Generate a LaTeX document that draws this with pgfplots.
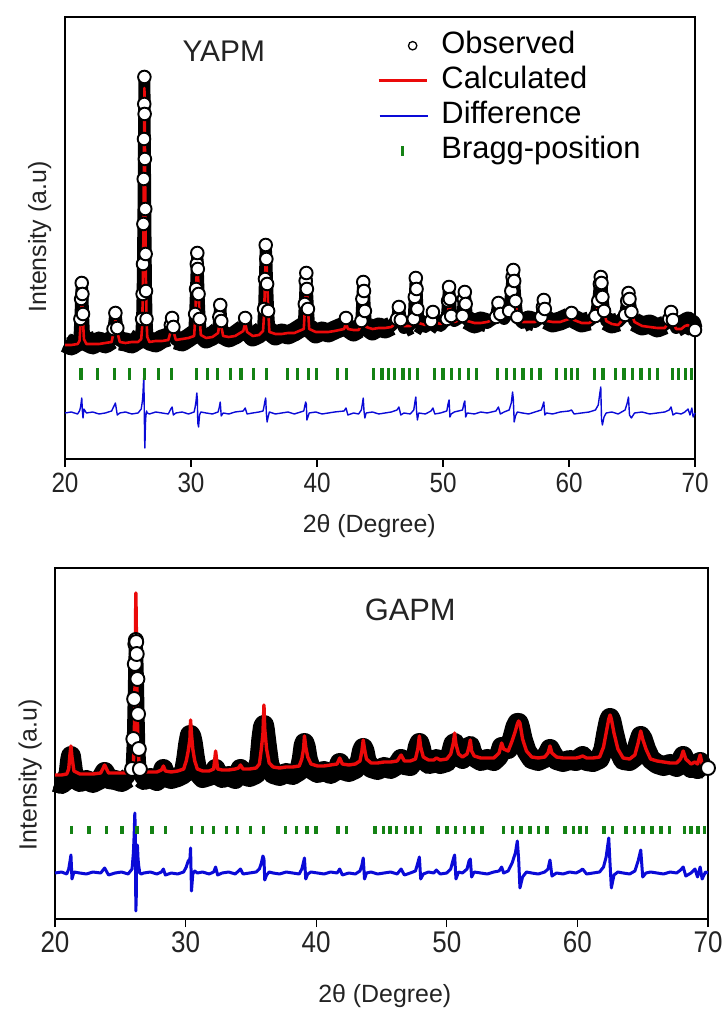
\documentclass[border=0pt]{standalone}
\usepackage{fontspec}
\setmainfont{Liberation Sans}
\newfontfamily\tickfont[FakeStretch=0.87]{Liberation Sans}
\usepackage{pgfplots}
\usepackage{pgfplotstable}
\pgfplotsset{compat=1.18}
\definecolor{calcred}{RGB}{235,10,10}
\definecolor{diffblue}{RGB}{10,10,215}
\definecolor{bragggreen}{RGB}{20,130,20}
\definecolor{txt}{RGB}{35,35,35}

% YAPM: x obs calc diff m (m=1: circle drawn)
\pgfplotstableread{
x obs calc diff m
20.0 116 114 46 0
20.5 113 114 47 0
21.0 117 115 45 0
21.15 122 118 48 0
21.22 140 132 51 1
21.28 160 148 56 1
21.33 176 157 61 1
21.38 165 154 48 1
21.43 145 138 41 1
21.50 125 120 50 0
21.7 117 115 46 0
22.2 114 115 47 0
22.7 118 115 45 0
23.2 115 116 46 0
23.7 119 117 48 0
23.85 130 126 52 1
24.0 146 139 56 1
24.15 131 127 44 1
24.35 118 117 46 0
24.8 117 116 47 0
25.3 115 117 45 0
25.8 119 117 46 0
26.05 124 120 50 0
26.12 140 132 56 1
26.16 165 155 60 1
26.19 195 185 66 1
26.22 235 222 74 1
26.25 280 265 82 1
26.27 320 310 70 1
26.29 355 350 50 1
26.30 382 371 40 1
26.32 345 360 20 1
26.34 300 320 11 1
26.37 250 262 28 1
26.40 205 212 40 1
26.43 168 170 44 1
26.47 140 140 48 1
26.53 124 122 46 0
26.7 118 117 45 0
27.2 116 118 47 0
27.7 120 118 46 0
28.2 122 119 45 0
28.4 134 128 50 1
28.5 141 135 52 1
28.6 132 128 44 1
28.8 119 119 46 0
29.3 117 120 47 0
29.8 121 121 45 0
30.25 125 123 47 0
30.33 145 140 52 1
30.40 170 165 58 1
30.46 195 190 66 1
30.50 206 199 60 1
30.54 190 192 36 1
30.60 165 168 32 1
30.68 140 142 44 1
30.78 126 124 47 0
31.2 120 121 46 0
31.7 123 122 45 0
32.15 128 126 47 0
32.25 142 135 52 1
32.32 154 141 57 1
32.40 138 133 43 1
32.55 124 123 46 0
33.0 121 122 45 0
33.5 124 123 47 0
34.15 130 128 48 0
34.30 141 136 51 1
34.45 129 127 45 0
34.9 122 123 46 0
35.4 125 124 47 0
35.72 130 128 48 0
35.80 150 145 53 1
35.87 180 175 58 1
35.93 214 206 61 1
35.98 200 200 46 1
36.04 175 182 37 1
36.12 148 152 42 1
36.22 128 127 47 0
36.7 123 125 45 0
37.2 126 125 46 0
37.7 124 126 47 0
38.2 127 126 45 0
38.95 133 130 48 0
39.03 155 148 53 1
39.10 178 165 57 1
39.15 186 172 55 1
39.20 170 168 39 1
39.28 150 151 42 1
39.38 131 130 46 0
39.9 125 127 47 0
40.4 128 127 45 0
40.9 126 127 46 0
41.4 129 128 47 0
42.15 133 130 48 0
42.30 141 136 51 1
42.45 131 130 44 0
42.9 127 129 46 0
43.3 130 129 45 0
43.52 138 134 49 1
43.60 160 150 55 1
43.67 177 159 61 1
43.73 168 157 48 1
43.80 148 145 41 1
43.90 133 132 46 0
44.4 128 130 47 0
44.9 132 131 45 0
45.4 130 131 46 0
45.9 133 132 47 0
46.35 140 137 49 1
46.50 152 145 52 1
46.65 139 137 44 1
46.9 131 133 46 0
47.4 134 133 45 0
47.68 140 137 49 1
47.76 162 152 56 1
47.84 181 162 62 1
47.90 170 160 48 1
47.97 150 150 39 1
48.07 136 136 46 0
48.6 132 134 45 0
49.05 138 136 48 1
49.20 147 142 51 1
49.35 137 137 45 0
49.8 133 135 46 0
50.3 140 138 48 1
50.40 158 148 55 1
50.48 172 154 59 1
50.55 160 152 42 1
50.65 143 142 45 1
50.9 138 137 47 0
51.55 143 140 49 1
51.65 160 148 55 1
51.73 167 149 58 1
51.80 155 146 42 1
51.92 139 138 46 0
52.5 135 136 45 0
53.0 138 136 47 0
53.5 136 137 46 0
54.2 142 140 48 1
54.40 156 150 52 1
54.55 145 144 45 1
54.85 140 141 47 0
55.25 148 146 49 1
55.42 168 165 56 1
55.52 182 180 67 1
55.58 189 184 60 1
55.65 178 182 37 1
55.75 158 160 43 1
55.90 142 141 47 1
56.3 136 137 46 0
56.8 139 137 45 0
57.3 137 137 47 0
57.8 142 140 49 1
57.93 152 144 54 1
58.00 159 146 57 1
58.08 150 143 44 1
58.22 139 138 46 0
58.7 136 137 45 0
59.3 138 137 47 0
60.0 142 140 48 0
60.2 146 142 49 1
60.4 140 139 45 0
61.0 136 136 46 0
61.6 138 136 47 0
62.1 143 140 49 1
62.32 158 156 54 1
62.45 175 172 66 1
62.52 182 177 72 1
62.58 176 178 40 1
62.65 162 168 34 1
62.78 148 150 42 1
62.95 138 138 46 0
63.4 135 135 47 0
63.9 137 134 45 0
64.45 144 142 49 1
64.62 158 152 56 1
64.72 166 156 62 1
64.80 160 155 44 1
64.95 147 146 41 1
65.2 137 137 46 0
65.8 133 133 47 0
66.4 135 132 45 0
67.0 131 131 46 0
67.6 134 131 47 0
67.95 140 138 49 1
68.10 147 142 52 1
68.25 139 137 44 1
68.5 131 130 46 0
68.9 134 130 45 0
69.2 136 133 47 0
69.45 138 134 50 0
69.6 133 131 44 0
69.75 135 132 51 0
69.85 130 129 42 0
70.0 129 128 46 1
}\topdata

% GAPM: x obs calc diff m
\pgfplotstableread{
x obs calc diff m
20.0 137 144 46 0
20.5 135 144 47 0
20.9 139 145 45 0
21.05 146 150 50 0
21.15 158 165 58 0
21.22 163 173 64 0
21.30 155 162 40 0
21.45 141 148 47 0
21.9 137 145 46 0
22.4 139 145 45 0
22.9 136 145 47 0
23.5 140 146 46 0
23.8 147 154 51 0
24.1 140 146 44 0
24.6 139 146 46 0
25.1 137 146 47 0
25.6 141 146 45 0
25.9 150 148 50 1
26.00 180 155 66 1
26.06 220 175 84 1
26.11 255 215 106 1
26.15 275 270 90 1
26.19 279 326 8 1
26.22 277 300 20 1
26.26 265 235 70 1
26.31 240 200 74 1
26.36 205 175 60 1
26.42 170 158 52 1
26.50 150 150 46 1
26.6 141 147 45 0
26.8 139 147 46 0
27.3 141 147 47 0
27.8 138 147 45 0
28.15 142 149 47 0
28.3 150 153 50 0
28.45 142 148 44 0
28.9 140 147 46 0
29.4 142 148 45 0
29.85 145 150 47 0
30.05 160 158 52 0
30.2 175 168 58 0
30.33 184 180 60 0
30.38 184 199 71 0
30.45 182 185 28 0
30.55 176 170 45 0
30.7 162 158 48 0
30.9 147 150 46 0
31.3 141 148 47 0
31.8 143 148 45 0
32.15 145 150 47 0
32.3 150 168 52 0
32.45 144 150 44 0
32.8 141 149 46 0
33.3 143 149 47 0
33.8 140 150 45 0
34.05 145 151 48 0
34.2 150 154 50 0
34.4 144 150 45 0
34.9 142 150 46 0
35.4 145 151 47 0
35.65 158 155 50 0
35.8 180 170 56 0
35.92 192 185 63 0
36.00 194 214 60 0
36.06 190 190 39 0
36.2 175 170 44 0
36.4 155 156 47 0
36.7 145 152 46 0
37.2 143 151 45 0
37.7 146 152 47 0
38.2 144 152 46 0
38.7 148 153 45 0
38.9 160 160 50 0
39.03 173 170 57 0
39.1 176 183 61 0
39.2 172 172 40 0
39.35 160 162 45 0
39.6 150 155 47 0
40.1 146 153 46 0
40.6 148 153 45 0
41.1 145 154 47 0
41.6 149 155 46 0
41.8 156 161 50 0
42.0 149 155 44 0
42.5 147 154 46 0
43.0 150 155 45 0
43.35 158 158 48 0
43.5 168 168 54 0
43.6 171 179 61 0
43.7 168 170 40 0
43.85 158 160 46 0
44.2 151 156 47 0
44.7 149 156 45 0
45.2 152 157 46 0
45.7 150 157 47 0
46.2 154 158 45 0
46.5 160 164 50 0
46.75 154 158 44 0
47.2 153 158 46 0
47.6 160 160 48 0
47.78 172 170 56 0
47.9 176 183 62 0
48.0 172 172 40 0
48.2 160 162 45 0
48.6 155 159 47 0
49.0 156 159 46 0
49.2 160 161 49 0
49.5 155 159 45 0
50.0 157 160 46 0
50.3 165 165 50 0
50.5 175 176 60 0
50.6 176 186 64 0
50.7 172 175 40 0
50.9 163 165 47 0
51.2 160 162 46 0
51.55 166 165 50 0
51.7 172 172 58 0
51.8 173 179 60 0
51.9 168 168 42 0
52.1 162 163 47 0
52.6 158 161 46 0
53.1 160 161 45 0
53.6 158 161 47 0
54.0 163 166 48 0
54.2 172 176 52 0
54.35 170 170 46 0
54.7 170 168 48 0
55.0 180 178 56 0
55.25 192 188 66 0
55.4 196 195 78 0
55.5 196 198 60 0
55.6 192 196 31 0
55.8 180 180 42 0
56.1 168 168 47 0
56.5 160 162 46 0
57.0 158 161 45 0
57.5 161 162 47 0
57.75 166 166 50 0
57.9 170 173 59 0
58.05 166 166 43 0
58.4 159 162 46 0
58.9 157 161 45 0
59.4 159 161 47 0
59.9 158 161 46 0
60.2 161 162 48 0
60.4 163 163 50 0
60.7 158 161 45 0
61.2 157 161 46 0
61.7 160 162 47 0
62.0 170 172 52 0
62.2 185 186 62 0
62.4 198 200 81 0
62.5 201 204 55 0
62.6 198 200 31 0
62.8 186 186 44 0
63.1 170 170 47 0
63.5 159 161 46 0
64.0 158 160 45 0
64.4 162 164 48 0
64.65 175 176 58 0
64.85 183 188 69 0
65.0 180 180 42 0
65.25 170 170 46 0
65.6 160 160 47 0
66.1 155 158 46 0
66.6 153 157 45 0
67.1 155 156 47 0
67.6 152 156 46 0
67.9 158 160 49 0
68.1 163 168 52 0
68.3 157 160 43 0
68.7 151 155 46 0
69.0 153 157 50 0
69.2 150 155 42 0
69.4 157 164 52 0
69.55 151 155 40 0
69.8 150 153 47 0
70.0 151 152 46 1
}\botdata

% Bragg positions: x, level in top panel, level in bottom panel
\pgfplotstableread{
x top bot
21.27 85 89
22.61 85 89
23.94 85 89
25.11 85 89
26.28 85 89
27.45 85 89
28.45 85 89
30.46 85 89
31.29 85 89
32.13 85 89
33.13 85 89
33.97 85 89
34.97 85 89
35.97 85 89
37.64 85 89
38.48 85 89
39.31 85 89
39.98 85 89
41.65 85 89
42.32 85 89
44.49 85 89
45.16 85 89
45.66 85 89
46.16 85 89
46.83 85 89
47.33 85 89
48.00 85 89
49.34 85 89
50.00 85 89
50.67 85 89
51.34 85 89
52.01 85 89
52.68 85 89
54.35 85 89
55.02 85 89
55.68 85 89
56.35 85 89
57.02 85 89
57.69 85 89
59.03 85 89
59.69 85 89
60.20 85 89
60.70 85 89
62.03 85 89
62.70 85 89
63.70 85 89
64.37 85 89
65.04 85 89
65.71 85 89
66.38 85 89
67.04 85 89
68.21 85 89
68.71 85 89
69.22 85 89
69.72 85 89
}\braggdata

\pgfplotsset{
  rietveld/.style={
    scale only axis,
    xmin=20, xmax=70, ymin=0,
    xtick={20,30,40,50,60,70},
    ytick=\empty,
    xtick pos=left,
    tick align=outside,
    major tick length=8bp,
    axis line style={line width=1.3bp, black},
    every tick/.style={black, line width=1.3bp},
    /pgf/number format/assume math mode=true,
    xticklabel style={font=\tickfont\fontsize{28}{30}\selectfont, text=txt},
    xlabel={2θ (Degree)},
    ylabel={Intensity (a.u)},
    label style={font=\fontsize{25}{28}\selectfont, text=txt},
    clip=false,
  },
  baseband/.style={black, line join=round, line cap=butt, forget plot,
    restrict expr to domain={\thisrow{m}}{-0.5:0.5}, unbounded coords=jump},
  peakband/.style={black, line join=round, line cap=butt, forget plot},
  obscircles/.style={only marks, mark=*,
    mark options={draw=black, fill=white, line width=1.9bp},
    restrict expr to domain={\thisrow{m}}{0.5:1.5}},
}

\begin{document}
\begin{tikzpicture}[x=1bp,y=1bp]
\path[use as bounding box] (0,0) rectangle (726,1015);

% ---------------- YAPM ----------------
\begin{axis}[rietveld,
  at={(65bp,556bp)}, anchor=south west,
  width=630bp, height=442bp, ymax=442,
  xticklabel style={yshift=-3bp},
  xlabel style={at={(axis description cs:0.483,-0.167)}, anchor=base},
  ylabel style={at={(axis description cs:-0.040,0.502)}, anchor=center},
  legend cell align=left,
  legend style={draw=none, fill=none, inner sep=0pt,
    at={(axis description cs:0.495,0.975)}, anchor=north west,
    font=\fontsize{31}{35}\selectfont,
    row sep=0pt, column sep=12bp,
    nodes={inner sep=1bp, text height=24bp, text depth=9bp}},
]
\addplot[baseband, line width=19bp] table[x=x, y=obs] {\topdata};
\addplot[peakband, line width=12bp] table[x=x, y=obs] {\topdata};
\addplot[obscircles, mark size=6.3bp,
  legend image code/.code={\path[draw=none, fill=none] (0bp,0bp) -- (48bp,0bp);
    \draw[draw=black, line width=1.3bp, fill=white] (34bp,0bp) circle (4.2bp);}]
  table[x=x, y=obs] {\topdata};
\addlegendentry{Observed}
\addplot[calcred, line width=2.6bp, line join=round,
  legend image code/.code={\draw[draw=calcred, line width=3.2bp] (0bp,0bp) -- (48bp,0bp);}]
  table[x=x, y=calc] {\topdata};
\addlegendentry{Calculated}
\addplot[diffblue, line width=1.4bp, line join=round,
  legend image code/.code={\draw[draw=diffblue, line width=1.6bp] (1bp,0bp) -- (49bp,0bp);}]
  table[x=x, y=diff] {\topdata};
\addlegendentry{Difference}
\addplot[only marks, mark=|, mark size=6bp,
  mark options={draw=bragggreen, line width=3.2bp},
  legend image code/.code={\path[draw=none, fill=none] (0bp,0bp) -- (48bp,0bp);
    \draw[draw=bragggreen, line width=3.2bp] (24bp,-5bp) -- (24bp,5bp);}]
  table[x=x, y=top] {\braggdata};
\addlegendentry{Bragg-position}
\node[font=\fontsize{30}{34}\selectfont, text=txt] at (rel axis cs:0.252,0.923) {YAPM};
\end{axis}

% ---------------- GAPM ----------------
\begin{axis}[rietveld,
  at={(55bp,96bp)}, anchor=south west,
  width=653bp, height=351bp, ymax=351,
  xticklabel style={font=\tickfont\fontsize{30}{32}\selectfont, yshift=-1bp},
  xlabel style={at={(axis description cs:0.505,-0.238)}, anchor=base},
  ylabel style={at={(axis description cs:-0.038,0.41)}, anchor=center},
]
\addplot[baseband, line width=20bp] table[x=x, y=obs] {\botdata};
\addplot[peakband, line width=13bp] table[x=x, y=obs] {\botdata};
\addplot[obscircles, mark size=7bp] table[x=x, y=obs] {\botdata};
\addplot[calcred, line width=3.4bp, line join=round]
  table[x=x, y=calc] {\botdata};
\addplot[diffblue, line width=3bp, line join=round]
  table[x=x, y=diff] {\botdata};
\addplot[only marks, mark=|, mark size=4bp,
  mark options={draw=bragggreen, line width=3.6bp}]
  table[x=x, y=bot] {\braggdata};
\node[font=\fontsize{31}{34}\selectfont, text=txt] at (rel axis cs:0.544,0.88) {GAPM};
\end{axis}
\end{tikzpicture}
\end{document}
